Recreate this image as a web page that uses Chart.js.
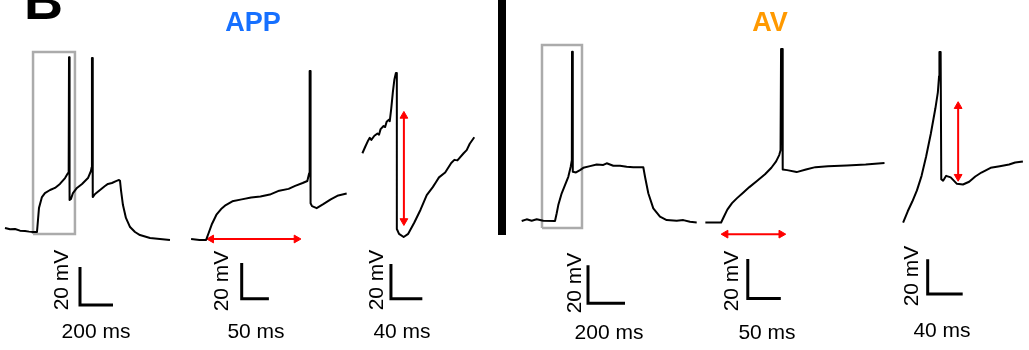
<!DOCTYPE html>
<html>
<head>
<meta charset="utf-8">
<script src="https://cdn.jsdelivr.net/npm/chart.js@4.4.1/dist/chart.umd.min.js"></script>
<style>
  body { margin: 0; background: #fff; width: 1029px; height: 350px; overflow: hidden; position: relative;
         font-family: "Liberation Sans", Arial, sans-serif; }
  canvas { position: absolute; top: 0; }
  .lbl { position: absolute; font-size: 21px; line-height: 1; color: #000; white-space: nowrap;
         transform: translate(-50%, -50%); }
  .rot { transform: translate(-50%, -50%) rotate(-90deg); }
  .title { position: absolute; top: 9px; font-size: 27px; line-height: 1; font-weight: bold;
           transform: translateX(-50%); }
  #panelLetter { position: absolute; left: 24px; top: -27px; font-size: 54px; line-height: 1; font-weight: bold; }
  #divider { position: absolute; left: 498px; top: 0; width: 8px; height: 235px; background: #000; }
</style>
</head>
<body>
<div id="panelLetter">B</div>
<div id="divider"></div>
<script>
// APP, whole sweep (time ms, membrane potential mV)
const appSweepT = [-194, -163, -133, -103, -73, -48, -24, 0, 6, 12, 30, 48, 79, 109, 139, 170, 188, 192, 194, 196, 199, 206, 218, 242, 273, 309, 327, 331, 333, 335, 338, 352, 382, 412, 430, 454, 479, 497, 503, 509, 521, 539, 564, 594, 624, 685, 745, 806];
const appSweepV = [-67.9, -68.6, -68.4, -69.3, -69.5, -69.8, -70, -70, -63.7, -57.4, -51.6, -49.5, -47.9, -46.8, -44.7, -41.6, -38.9, -37, 22, 22, -53.2, -52.6, -49.5, -46.8, -44.7, -41.6, -37.9, -36, 21.6, 21.6, -51.6, -50, -47.9, -45.8, -44.7, -44.2, -43.2, -42.6, -43, -47.9, -55.8, -62.6, -67.4, -70, -71.6, -73.2, -73.7, -74.2];
// APP, first spike latency (50 ms view)
const appLatencyT = [-27.6, -12.1, 0, 5.2, 10.3, 19, 27.6, 36.2, 48.3, 65.5, 82.8, 100, 117.2, 134.5, 151.7, 163.8, 177.6, 186.2, 189.6, 190.5, 191.3, 192.2, 194.8, 203.4, 215.5, 229.3, 243.1, 258.6];
const appLatencyV = [-69.5, -70, -70, -65.7, -61.4, -55.9, -52.7, -50.5, -48.4, -47.3, -46.2, -45.7, -44.6, -42.4, -41.4, -39.7, -38.1, -37, -32.7, 24.6, 24.6, -49.5, -51.1, -52.2, -50, -47.3, -45.1, -44];
// APP, spike and AHP (40 ms view)
const appSpikeT = [-43.5, -40, -36.1, -34.1, -32.1, -28.2, -24.3, -22.3, -20.3, -16.5, -14.5, -12.6, -9.4, -8.6, -6.7, -4.7, -2.7, -0.8, 0.4, 0.4, 3.2, 9.1, 14.9, 22.7, 30.6, 38.5, 46.2, 50.2, 54.1, 62, 69.7, 73.7, 77.6, 85.5, 89.4, 93.3, 99.1];
const appSpikeV = [-21.8, -18.2, -14.4, -12.9, -14.1, -11.7, -10.4, -11.1, -7.9, -6.1, -6.7, -3.7, -2.4, -3.3, 4.1, 13.3, 20.7, 24.4, 24.4, -65.4, -68.2, -70, -68.2, -61.7, -54.3, -45.9, -41.3, -38.5, -35.7, -32.9, -27.4, -25.6, -25.9, -21.8, -20, -16.3, -12.6];
// AV, whole sweep
const avSweepT = [-180, -153, -126, -98.9, -63.2, 0, 9.2, 17.8, 36.2, 54, 71.9, 84.9, 91, 92, 95, 97.3, 113.5, 135.1, 153, 189.2, 225.4, 261.1, 279.4, 315.1, 351.3, 387.5, 423.2, 477.3, 486.5, 504.3, 531.3, 567.5, 603.7, 657.8, 693.5, 729.7, 765.9];
const avSweepV = [-70, -69.1, -69.8, -69.1, -69.8, -70, -65.9, -61.6, -55.4, -51.1, -46.7, -41.4, -38, 19.1, 19.1, -44.1, -44.4, -43.2, -42, -41.1, -40.2, -40.5, -39.6, -40.9, -40.9, -41.4, -41.7, -41.7, -46.7, -55.4, -63.3, -67.7, -69.5, -69.8, -69.5, -70.4, -70.7];
// AV, first spike latency
const avLatencyT = [-24.3, -0.4, 4.3, 9, 16.1, 23.3, 32.9, 42.4, 54.3, 66.1, 75.7, 82.9, 87.6, 89.6, 90.4, 91.9, 92.9, 99.6, 113.9, 128.1, 142.4, 161.4, 190, 218.6, 247.1];
const avLatencyV = [-70, -70, -66.7, -63.5, -60.2, -57.8, -54.9, -52.1, -48.9, -45.6, -42.3, -39.1, -35.9, -33.4, 17.8, 17.8, -43.2, -43.5, -44.5, -43.2, -42, -41.5, -41.2, -40.7, -39.9];
// AV, spike and AHP
const avSpikeT = [-41.8, -36.5, -31.3, -26, -20.7, -15.5, -10.2, -4.9, -2.1, -0.7, -0.3, 1.1, 1.8, 3.9, 7.4, 12.6, 19.7, 26.6, 33.7, 40.7, 47.7, 58.2, 68.7, 79.3, 86.3, 95.1];
const avSpikeV = [-91.7, -85.2, -79.6, -73.2, -64.8, -53.7, -40.7, -25.9, -16.7, -7.4, 6.5, 6.5, -66.7, -67.6, -64.8, -65.7, -69.4, -69.8, -68.2, -65.2, -62.9, -60.2, -59.3, -58.3, -57.1, -56.5];

// zoom windows marked on the whole sweeps: [t start, t end], [v low, v high]
const appWindowT = [-24, 230];
const appWindowV = [-71, 24.7];
const avWindowT = [-70.3, 145.9];
const avWindowV = [-73.7, 22.6];

// measurement arrows: latency (horizontal) and AHP depth (vertical)
const appLatencyArrowT = [9.5, 166.2];
const appLatencyArrowV = -69.5;
const appAhpArrowT = 9.4;
const appAhpArrowV = [-0.3, -60.8];
const avLatencyArrowT = [6.4, 90.7];
const avLatencyArrowV = -75.9;
const avAhpArrowT = 21.1;
const avAhpArrowV = [-24.7, -65.3];

const scaleBarMs = [200, 50, 40, 200, 50, 40];
const scaleBarMv = 20;
const groupTitles = ['APP', 'AV'];

const zip = (t, v) => t.map((x, i) => ({ x: x, y: v[i] }));

const panels = [
  { left: 0, width: 180, x: [-224.2, 866.7], y: [-111.05, 52.1], t: appSweepT, v: appSweepV,
    box: [appWindowT, appWindowV], bar: [260.6, -108.4], mv: [60, 280], ms: [96, 330] },
  { left: 180, width: 175, x: [-37.9, 263.8], y: [-106.2, 61.35], t: appLatencyT, v: appLatencyV,
    hArrow: [appLatencyArrowT, appLatencyArrowV], bar: [65.5, -103], mv: [220, 281], ms: [256, 330] },
  { left: 355, width: 143, x: [-45.9, 122.3], y: [-108.9, 63.3], t: appSpikeT, v: appSpikeV,
    vArrow: [appAhpArrowT, appAhpArrowV], bar: [-7.1, -105.6], mv: [375, 280], ms: [402, 330] },
  { left: 510, width: 188, x: [-243.2, 772.9], y: [-116.8, 46.3], t: avSweepT, v: avSweepV,
    box: [avWindowT, avWindowV], bar: [178.4, -113.2], mv: [573, 283], ms: [609, 331] },
  { left: 698, width: 192, x: [-27.1, 247.1], y: [-111.5, 39.8], t: avLatencyT, v: avLatencyV,
    hArrow: [avLatencyArrowT, avLatencyArrowV], bar: [40, -108.5], mv: [730, 281], ms: [767, 331] },
  { left: 890, width: 139, x: [-50.5, 95.8], y: [-138.9, 33.3], t: avSpikeT, v: avSpikeV,
    vArrow: [avAhpArrowT, avAhpArrowV], bar: [-13.7, -132.8], mv: [910, 276], ms: [942, 329] }
];

function arrowSet(points, rot) {
  return {
    data: points, borderColor: '#ff0000', borderWidth: 2,
    pointRadius: 4.5, pointStyle: 'triangle', pointRotation: rot,
    pointBackgroundColor: '#ff0000', pointBorderColor: '#ff0000', pointBorderWidth: 1
  };
}

function addLabel(text, pos, cls) {
  const d = document.createElement('div');
  d.className = cls;
  d.textContent = text;
  d.style.left = pos[0] + 'px';
  d.style.top = pos[1] + 'px';
  document.body.appendChild(d);
}

panels.forEach((p, i) => {
  const canvas = document.createElement('canvas');
  canvas.width = p.width;
  canvas.height = 310;
  canvas.style.left = p.left + 'px';
  document.body.appendChild(canvas);

  const datasets = [{ data: zip(p.t, p.v), borderColor: '#000', borderWidth: 2 }];
  if (p.box) {
    const [bt, bv] = p.box;
    datasets.push({
      data: [{ x: bt[0], y: bv[0] }, { x: bt[1], y: bv[0] }, { x: bt[1], y: bv[1] },
             { x: bt[0], y: bv[1] }, { x: bt[0], y: bv[0] }],
      borderColor: '#ababab', borderWidth: 2.5, borderJoinStyle: 'miter'
    });
  }
  if (p.hArrow) {
    const [at, av] = p.hArrow;
    datasets.push(arrowSet([{ x: at[0], y: av }, { x: at[1], y: av }], [270, 90]));
  }
  if (p.vArrow) {
    const [at, av] = p.vArrow;
    datasets.push(arrowSet([{ x: at, y: av[0] }, { x: at, y: av[1] }], [0, 180]));
  }
  // L-shaped scale bar: 20 mV up, N ms across
  const [b0, v0] = p.bar;
  datasets.push({
    data: [{ x: b0, y: v0 + scaleBarMv }, { x: b0, y: v0 }, { x: b0 + scaleBarMs[i], y: v0 }],
    borderColor: '#000', borderWidth: 3, borderJoinStyle: 'miter'
  });

  new Chart(canvas, {
    type: 'line',
    data: { datasets: datasets },
    options: {
      responsive: false,
      animation: false,
      events: [],
      layout: { padding: 0 },
      plugins: { legend: { display: false }, tooltip: { enabled: false } },
      scales: {
        x: { type: 'linear', display: false, min: p.x[0], max: p.x[1] },
        y: { type: 'linear', display: false, min: p.y[0], max: p.y[1] }
      },
      elements: {
        point: { radius: 0 },
        line: { tension: 0, borderJoinStyle: 'round', fill: false }
      },
      datasets: { line: { clip: false } }
    }
  });

  addLabel(scaleBarMv + ' mV', p.mv, 'lbl rot');
  addLabel(scaleBarMs[i] + ' ms', p.ms, 'lbl');
});

const t1 = document.createElement('div');
t1.className = 'title';
t1.textContent = groupTitles[0];
t1.style.left = '253px';
t1.style.color = '#1670ff';
document.body.appendChild(t1);

const t2 = document.createElement('div');
t2.className = 'title';
t2.textContent = groupTitles[1];
t2.style.left = '770px';
t2.style.color = '#ff9900';
document.body.appendChild(t2);
</script>
</body>
</html>
